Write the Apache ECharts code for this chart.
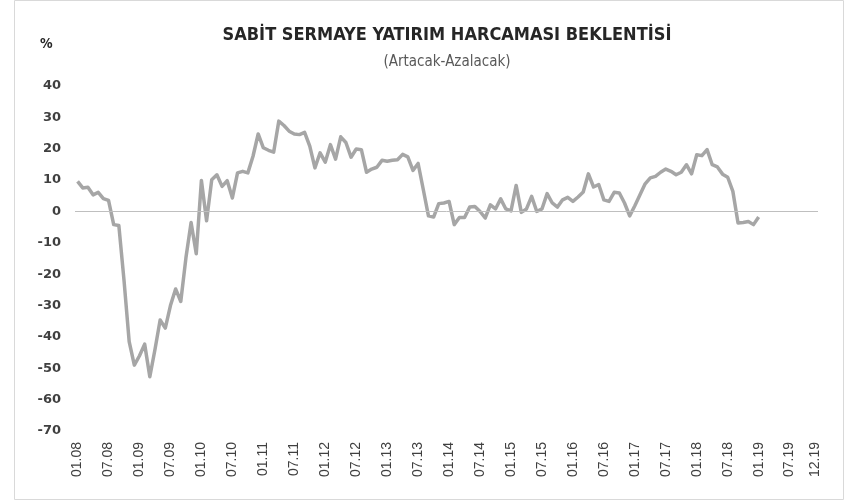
<!DOCTYPE html>
<html>
<head>
<meta charset="utf-8">
<script src="https://cdn.jsdelivr.net/npm/echarts@6/dist/echarts.min.js"></script>
<style>
  html, body { margin: 0; padding: 0; background: #fff; }
  #chart { width: 859px; height: 500px; }
</style>
</head>
<body>
<div id="chart"></div>
<script>
// aylar: 01.08 - 12.19
const months = []
for (let y = 8; y <= 19; y++) {
  for (let m = 1; m <= 12; m++) {
    months.push(String(m).padStart(2, '0') + '.' + String(y).padStart(2, '0'))
  }
}

// Artacak - Azalacak (%), 01.08 - 01.19
const beklenti = [
  9.6, 7.5, 7.7, 5.3, 6.1, 4.1, 3.5, -4.2, -4.5, -22,
  -41.5, -49, -46, -42.3, -52.7, -44, -34.6, -37.2, -30, -24.7,
  -28.7, -14.8, -3.5, -13.5, 9.9, -3, 10.1, 11.7, 8, 9.8,
  4.3, 12.3, 12.8, 12.3, 17.6, 24.7, 20.3, 19.5, 18.9, 28.8,
  27.4, 25.6, 24.7, 24.5, 25.2, 20.8, 13.9, 18.7, 15.7, 21.3,
  16.7, 23.8, 22, 17.3, 19.9, 19.7, 12.5, 13.5, 14.1, 16.3,
  16, 16.3, 16.5, 18.2, 17.4, 13.1, 15.3, 7, -1.4, -1.8,
  2.5, 2.7, 3.2, -4.2, -1.9, -1.9, 1.4, 1.6, 0, -2.1,
  2.1, 0.8, 4, 0.8, 0.2, 8.3, -0.3, 0.8, 4.8, 0,
  0.8, 5.7, 2.7, 1.4, 3.7, 4.5, 3.2, 4.6, 6.2, 12,
  7.8, 8.6, 3.7, 3.2, 6.1, 5.9, 2.7, -1.4, 1.8, 5.3,
  8.8, 10.7, 11.2, 12.5, 13.5, 12.8, 11.7, 12.5, 14.9, 12,
  18.1, 17.8, 19.7, 14.9, 14.2, 11.9, 10.9, 6.4, -3.7, -3.5,
  -3.2, -4.2, -1.8
]

const yMin = -70
const yMax = 40
const yStep = 10

let myCharts = echarts.init(document.getElementById('chart'))
myCharts.setOption({
  animation: false,
  title: [
    {
      text: 'SABİT SERMAYE YATIRIM HARCAMASI BEKLENTİSİ',
      left: 442,
      top: 21,
      textAlign: 'center',
      textStyle: {
        fontFamily: 'DejaVu Sans Condensed, Liberation Sans Narrow, Liberation Sans',
        fontWeight: 'bold',
        fontSize: 18,
        color: '#262626',
      },
    },
    {
      text: '(Artacak-Azalacak)',
      left: 442,
      top: 50,
      textAlign: 'center',
      textStyle: {
        fontFamily: 'DejaVu Sans Condensed, Liberation Sans Narrow, Liberation Sans',
        fontWeight: 'normal',
        fontSize: 15,
        color: '#595959',
      },
    },
    {
      text: '%',
      left: 35,
      top: 32,
      textStyle: {
        fontFamily: 'DejaVu Sans Condensed, Liberation Sans',
        fontWeight: 'bold',
        fontSize: 14,
        color: '#262626',
      },
    },
  ],
  graphic: [
    {
      type: 'rect',
      silent: true,
      shape: { x: 14.5, y: 0.5, width: 829, height: 499 },
      style: { fill: 'none', stroke: '#d9d9d9', lineWidth: 1 },
    },
  ],
  grid: {
    left: 75,
    right: 41,
    top: 86,
    bottom: 69,
  },
  xAxis: {
    type: 'category',
    data: months,
    boundaryGap: true,
    axisLine: { show: false },
    axisTick: { show: false },
    splitLine: { show: false },
    axisLabel: {
      rotate: 90,
      margin: 11,
      interval: (i) => i % 6 === 0 || i === months.length - 1,
      fontFamily: 'Liberation Sans',
      fontSize: 14,
      color: '#404040',
    },
  },
  yAxis: {
    type: 'value',
    min: yMin,
    max: yMax,
    interval: yStep,
    axisLine: { show: false },
    axisTick: { show: false },
    splitLine: { show: false },
    axisLabel: {
      margin: 14,
      fontFamily: 'DejaVu Sans',
      fontWeight: 'bold',
      fontSize: 13,
      color: '#404040',
    },
  },
  series: [
    {
      type: 'line',
      data: beklenti,
      symbol: 'none',
      lineStyle: { color: '#a6a6a6', width: 3.5, join: 'round' },
      markLine: {
        silent: true,
        symbol: 'none',
        label: { show: false },
        lineStyle: { color: '#bfbfbf', type: 'solid', width: 1 },
        data: [{ yAxis: 0 }],
      },
      z: 3,
    },
  ],
})
</script>
</body>
</html>
